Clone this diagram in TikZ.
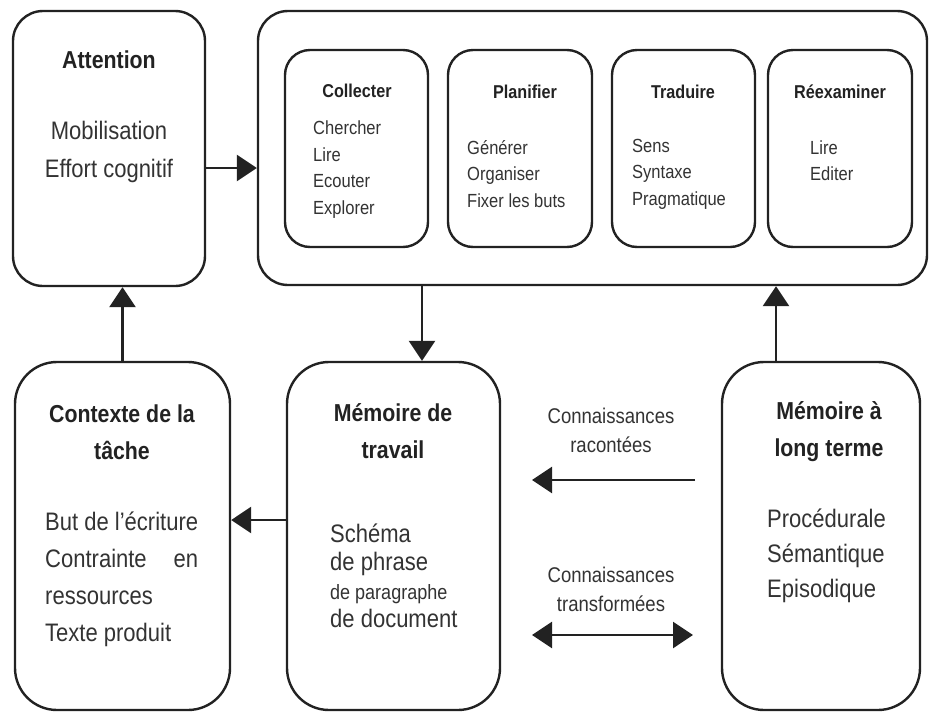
\documentclass[tikz,border=0pt]{standalone}
\usepackage{fontspec}
\setmainfont{Liberation Sans}[FakeStretch=0.87]
\usetikzlibrary{arrows.meta}
\definecolor{ink}{HTML}{222222}
\definecolor{txtc}{HTML}{333333}
\begin{document}
\begin{tikzpicture}[x=1pt,y=-1pt,
  box/.style={draw=ink, line width=2.4pt, rounded corners=#1, inner sep=0pt},
  box/.default=30pt,
  ibox/.style={box=25pt, minimum height=197pt},
  bbox/.style={box=42pt, minimum height=348pt},
  ttl/.style={inner sep=0pt, text=ink, align=center, font=\bfseries\fontsize{24.5}{37}\selectfont},
  sttl/.style={inner sep=0pt, text=ink, font=\bfseries\fontsize{18.6}{20}\selectfont},
  itm/.style={inner sep=0pt, text=txtc, align=left, font=\fontsize{19}{26.5}\selectfont},
  big/.style={inner sep=0pt, text=txtc, font=\fontsize{25.3}{37}\selectfont},
  lbl/.style={inner sep=0pt, text=txtc, align=center, font=\fontsize{21.3}{29}\selectfont},
  arr/.style={draw=ink, line width=2.6pt, -{Triangle[length=20pt,width=26pt]}},
  darr/.style={draw=ink, line width=2.6pt, {Triangle[length=20pt,width=26pt]}-{Triangle[length=20pt,width=26pt]}}
]
\useasboundingbox[fill=white] (0,0) rectangle (930,713);

% top row
\node[box, minimum width=192pt, minimum height=275pt] (att) at (109,148.5) {};
\node[box, minimum width=669pt, minimum height=274pt] (bigb) at (592.5,148) {};
\node[ibox, minimum width=143pt] (col) at (356.5,148.5) {};
\node[ibox, minimum width=144pt] (pla) at (520,148.5) {};
\node[ibox, minimum width=143pt] (tra) at (683.5,148.5) {};
\node[ibox, minimum width=144pt] (ree) at (840,148.5) {};

% bottom row
\node[bbox, minimum width=215pt] (ctx) at (122.5,536) {};
\node[bbox, minimum width=213pt] (mdt) at (393.5,536) {};
\node[bbox, minimum width=198pt] (ltm) at (821,536) {};

% texts: Attention
\node[ttl] (att-t) at (109,60) {Attention};
\node[big, align=center, font=\fontsize{25.3}{38}\selectfont] (att-i) at (109,152) {Mobilisation\\Effort cognitif};

% inner boxes
\node[sttl] (col-t) at (357,91) {Collecter};
\node[itm, anchor=west] (col-i) at (313,169.5) {Chercher\\Lire\\Ecouter\\Explorer};
\node[sttl] (pla-t) at (525,92) {Planifier};
\node[itm, anchor=west] (pla-i) at (467,174) {Générer\\Organiser\\Fixer les buts};
\node[sttl] (tra-t) at (683,92) {Traduire};
\node[itm, anchor=west] (tra-i) at (632,174) {Sens\\Syntaxe\\Pragmatique};
\node[sttl] (ree-t) at (840,92) {Réexaminer};
\node[itm, anchor=west] (ree-i) at (810,160.5) {Lire\\Editer};

% Contexte
\node[ttl] (ctx-t) at (122,432) {Contexte de la\\tâche};
\node[big, align=left, anchor=west] (ctx-i) at (45,579) {But de l’écriture\\\hbox to 153pt{Contrainte\hfill en}\\ressources\\Texte produit};

% Mémoire de travail
\node[ttl] (mdt-t) at (393,431) {Mémoire de\\travail};
\node[big, align=left, anchor=west, font=\fontsize{25.3}{28.5}\selectfont] (mdt-i) at (330,576) {Schéma\\de phrase\\{\fontsize{20.7}{28.5}\selectfont de paragraphe}\\de document};

% Mémoire à long terme
\node[ttl] (ltm-t) at (829,432) {Mémoire à\\long terme};
\node[big, align=left, anchor=west, font=\fontsize{25.3}{35}\selectfont] (ltm-i) at (767,556) {Procédurale\\Sémantique\\Episodique};

% labels
\node[lbl] (k1) at (611,430) {Connaissances\\racontées};
\node[lbl] (k2) at (611,589) {Connaissances\\transformées};

% connectors
\draw[arr] ([yshift=-19.5pt]att.east) -- ([yshift=-19.5pt]att.east -| bigb.west);
\draw[arr] ([xshift=28.5pt]mdt.north |- bigb.south) -- ([xshift=28.5pt]mdt.north);
\draw[arr] ([yshift=16pt]mdt.west) -- ([yshift=16pt]mdt.west -| ctx.east);
\draw[arr] (ctx.north) -- (ctx.north |- att.south);
\draw[arr] ([xshift=-45pt]ltm.north) -- ([xshift=-45pt]ltm.north |- bigb.south);

\coordinate (r1) at (695,480);
\coordinate (r2) at (532,480);
\draw[arr] (r1) -- (r2);
\coordinate (t1) at (532,635);
\coordinate (t2) at (693,635);
\draw[darr] (t1) -- (t2);
\end{tikzpicture}
\end{document}
